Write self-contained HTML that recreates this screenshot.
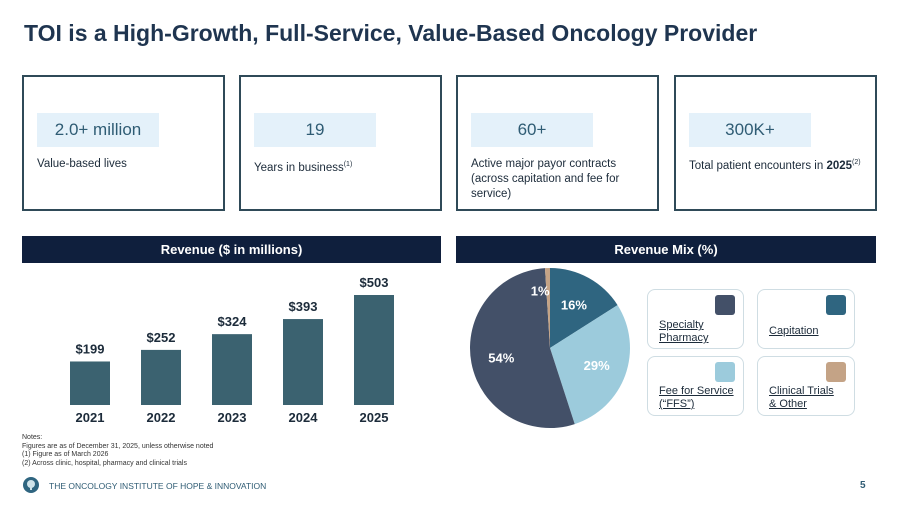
<!DOCTYPE html>
<html><head><meta charset="utf-8"><style>
body{margin:0;width:899px;height:506px;background:#fff;font-family:"Liberation Sans",sans-serif;position:relative;overflow:hidden;color:#1c2b3a}
.abs{position:absolute}
.card{position:absolute;top:75px;width:199px;height:132px;border:2px solid #2f4a58;box-sizing:content-box}
.hl{position:absolute;left:13px;top:36px;height:34px;background:#e4f1fa;color:#2f5c74;font-size:17px;line-height:34px;text-align:center}
.ct{position:absolute;left:13px;top:78px;font-size:11.5px;line-height:15px;color:#1c2b3a}
.hdr{position:absolute;top:236px;height:27px;background:#0f1f3d;color:#fff;font-weight:bold;font-size:13px;line-height:27px;text-align:center}
.leg{position:absolute;width:97px;height:60px;border:1px solid #cfdde3;border-radius:8px;font-size:11px;line-height:13px;color:#1c2b3a;box-sizing:border-box}
.leg .sw{position:absolute;right:8px;top:5px;width:20px;height:20px;border-radius:3px}
.leg .tx{position:absolute;left:11px;text-decoration:underline;white-space:nowrap}
</style></head><body>
<div class="abs" style="left:24px;top:20px;font-size:23px;font-weight:bold;color:#1f3550">TOI is a High-Growth, Full-Service, Value-Based Oncology Provider</div>

<div class="card" style="left:22px"><div class="hl" style="width:122px">2.0+ million</div><div class="ct" style="top:80px">Value-based lives</div></div>
<div class="card" style="left:239px"><div class="hl" style="width:122px">19</div><div class="ct" style="top:80px">Years in business<sup style="font-size:7px">(1)</sup></div></div>
<div class="card" style="left:456px"><div class="hl" style="width:122px">60+</div><div class="ct" style="top:80px">Active major payor contracts<br>(across capitation and fee for<br>service)</div></div>
<div class="card" style="left:674px"><div class="hl" style="width:122px">300K+</div><div class="ct" style="top:78px">Total patient encounters in <b>2025</b><sup style="font-size:7px">(2)</sup></div></div>

<div class="hdr" style="left:22px;width:419px">Revenue ($ in millions)</div>
<div class="hdr" style="left:456px;width:420px">Revenue Mix (%)</div>

<svg id="bar" class="abs" style="left:0;top:265px" width="450" height="160"></svg>
<svg id="pie" class="abs" style="left:460px;top:262px" width="180" height="175"></svg>

<div class="leg" style="left:647px;top:289px"><div class="sw" style="background:#435068"></div><div class="tx" style="top:29px">Specialty<br>Pharmacy</div></div>
<div class="leg" style="left:757px;top:289px;width:98px"><div class="sw" style="background:#2f6580"></div><div class="tx" style="top:35px">Capitation</div></div>
<div class="leg" style="left:647px;top:356px"><div class="sw" style="background:#9ccbdc"></div><div class="tx" style="top:28px">Fee for Service<br>(“FFS”)</div></div>
<div class="leg" style="left:757px;top:356px;width:98px"><div class="sw" style="background:#c4a386"></div><div class="tx" style="top:28px">Clinical Trials<br>&amp; Other</div></div>

<div class="abs" style="left:22px;top:434px;font-size:7px;line-height:8.5px;color:#333">Notes:<br>Figures are as of December 31, 2025, unless otherwise noted<br>(1) Figure as of March 2026<br>(2) Across clinic, hospital, pharmacy and clinical trials</div>
<svg class="abs" style="left:22px;top:476px" width="18" height="18"><circle cx="9" cy="9" r="8" fill="#2f6580"/><circle cx="9" cy="8" r="4" fill="#cfe3ea"/><rect x="8" y="10" width="2" height="4" fill="#cfe3ea"/></svg>
<div class="abs" style="left:49px;top:481px;font-size:8.5px;color:#2f5c74">THE ONCOLOGY INSTITUTE OF HOPE &amp; INNOVATION</div>
<div class="abs" style="left:860px;top:480px;font-size:10px;font-weight:bold;color:#2f5c74">5</div>

<script>
const years=["2021","2022","2023","2024","2025"];
const revenue=[199,252,324,393,503];
const mixLabels=["Capitation","Fee for Service","Specialty Pharmacy","Clinical Trials & Other"];
const mixValues=[16,29,54,1];
const mixColors=["#2f6580","#9ccbdc","#435068","#c4a386"];
const NS="http://www.w3.org/2000/svg";
function mk(p,t,a){const e=document.createElementNS(NS,t);for(const k in a)e.setAttribute(k,a[k]);p.appendChild(e);return e;}
const bar=document.getElementById('bar');
const base=140, scale=110/503;
const xPos=i=>70+i*71, bw=40;
years.forEach((y,i)=>{
  const h=revenue[i]*scale;
  const r=mk(bar,'rect',{x:xPos(i),y:base-h,width:bw,height:h,fill:'#3b6270'});
  
  
  const v=mk(bar,'text',{x:xPos(i)+bw/2,y:base-h-8,'text-anchor':'middle','font-size':13,'font-weight':'bold',fill:'#1c2b3a'});
  v.textContent='$'+revenue[i];
  
  
  const t=mk(bar,'text',{x:xPos(i)+bw/2,y:base+17,'text-anchor':'middle','font-size':13,'font-weight':'bold',fill:'#1c2b3a'});
  t.textContent=y;
  
  
});
const pie=document.getElementById('pie');
const cx=90,cy=86,R=80;const tot=mixValues.reduce((a,b)=>a+b,0);
let a0=0;
mixValues.forEach((v,i)=>{
  const a1=a0+v/tot*2*Math.PI;
  const p=(a)=>[cx+R*Math.sin(a),cy-R*Math.cos(a)];
  const [x0,y0]=p(a0),[x1,y1]=p(a1);
  const s=mk(pie,'path',{d:`M${cx},${cy}L${x0},${y0}A${R},${R} 0 ${a1-a0>Math.PI?1:0} 1 ${x1},${y1}Z`,fill:mixColors[i]});
  
  
  const m=(a0+a1)/2, lr=v<5?R*0.72:R*0.62;
  const t=mk(pie,'text',{x:cx+lr*Math.sin(m)+(v<5?-8:0),y:cy-lr*Math.cos(m)+5,'text-anchor':'middle','font-size':13,'font-weight':'bold',fill:'#fff'});
  t.textContent=v+'%';
  
  
  a0=a1;
});
</script>
</body></html>
